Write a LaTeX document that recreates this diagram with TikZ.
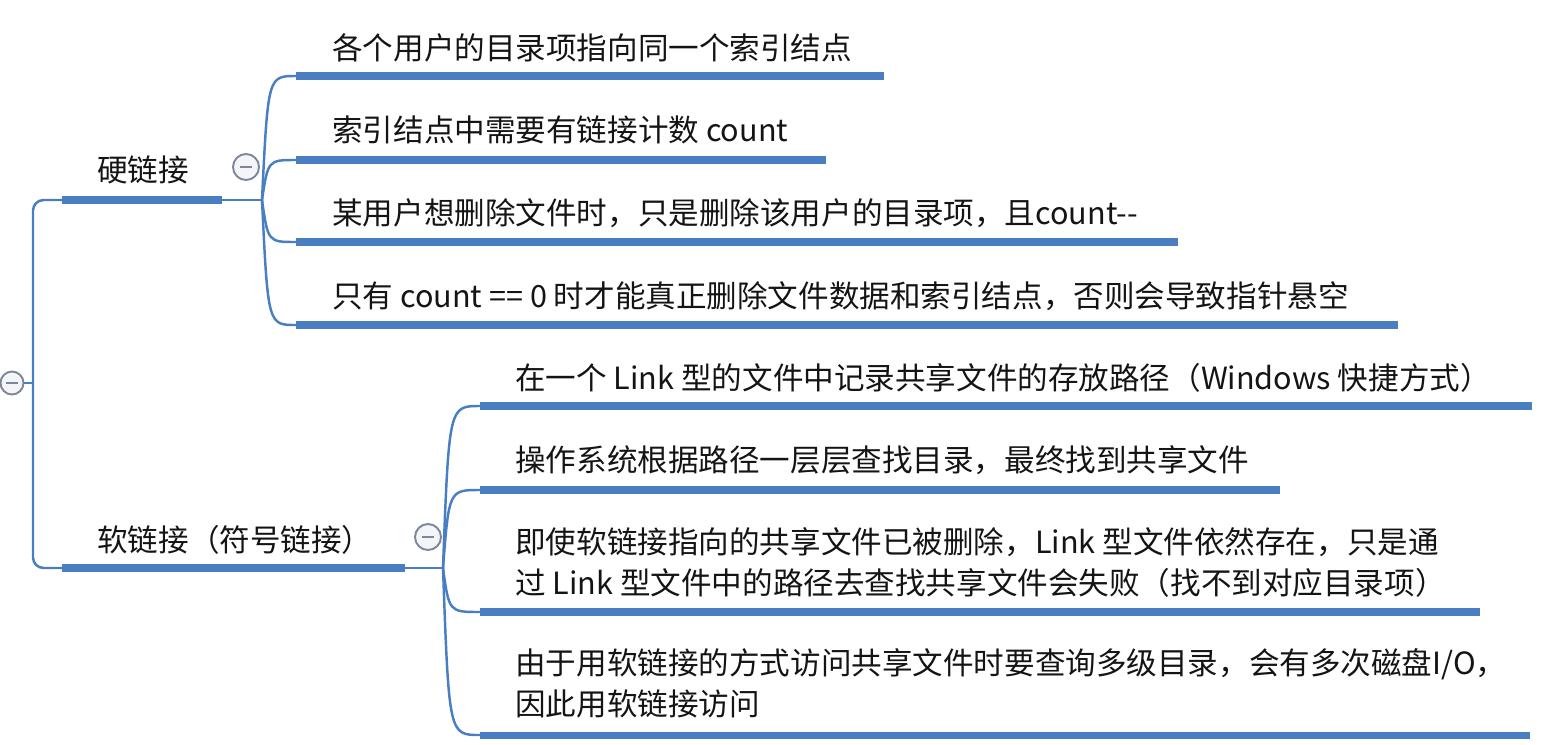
\documentclass[tikz,border=0pt]{standalone}
\usepackage{fontspec}
\setmainfont{Noto Sans CJK SC}
\usetikzlibrary{calc}
\definecolor{mapblue}{HTML}{4A7EC2}
\definecolor{foldgray}{HTML}{7C879A}
\definecolor{foldfill}{HTML}{F3F5F9}
\definecolor{inkblack}{HTML}{141414}

\begin{document}
\begin{tikzpicture}[
  x=0.02cm, y=-0.02cm,
  topic/.style={anchor=base west, inner sep=0pt, align=left, text=inkblack,
                font=\fontsize{17.4}{23.3}\selectfont},
  uline/.style={draw=mapblue, line width=4pt},
  conn/.style={draw=mapblue, line width=1.4pt},
  fold/.style={circle, draw=foldgray, fill=foldfill, line width=1.1pt,
               minimum size=0.52cm, inner sep=0pt,
               path picture={\draw[foldgray, line width=1.6pt]
                 ([xshift=-3.2pt]path picture bounding box.center) --
                 ([xshift=3.2pt]path picture bounding box.center);}}
]
  \useasboundingbox (0,0) rectangle (1550,744);

  % root
  \node[fold, minimum size=0.46cm] (root) at (12,383) {};
  \coordinate (rj) at (33,383);

  % hard link branch
  \coordinate (hs) at (62,200);
  \coordinate (he) at (222,200);
  \coordinate (hb) at (262,200);
  \node[topic] (hard) at (97,181) {硬链接};
  \node[fold] (hfold) at (246,167) {};

  \coordinate (h1s) at (296,76);  \coordinate (h1e) at (884,76);
  \coordinate (h2s) at (296,160); \coordinate (h2e) at (826,160);
  \coordinate (h3s) at (296,242); \coordinate (h3e) at (1178,242);
  \coordinate (h4s) at (296,325); \coordinate (h4e) at (1398,325);
  \node[topic] (h1) at (332,59) {各个用户的目录项指向同一个索引结点};
  \node[topic] (h2) at (332,141) {索引结点中需要有链接计数 count};
  \node[topic] (h3) at (332,224) {某用户想删除文件时，只是删除该用户的目录项，且count-{}-};
  \node[topic] (h4) at (332,307) {只有 count == 0 时才能真正删除文件数据和索引结点，否则会导致指针悬空};

  % soft link branch
  \coordinate (ss) at (62,568);
  \coordinate (se) at (405,568);
  \coordinate (sb) at (443,568);
  \node[topic] (soft) at (97,551) {软链接（符号链接）};
  \node[fold] (sfold) at (428,537) {};

  \coordinate (s1s) at (480,406); \coordinate (s1e) at (1532,406);
  \coordinate (s2s) at (480,490); \coordinate (s2e) at (1280,490);
  \coordinate (s3s) at (480,612); \coordinate (s3e) at (1480,612);
  \coordinate (s4s) at (480,735); \coordinate (s4e) at (1530,735);
  \node[topic] (s1) at (515,389) {在一个 Link 型的文件中记录共享文件的存放路径（Windows 快捷方式）};
  \node[topic] (s2) at (515,471) {操作系统根据路径一层层查找目录，最终找到共享文件};
  \node[topic] (s3) at (515,594) {即使软链接指向的共享文件已被删除，Link 型文件依然存在，只是通\\过 Link 型文件中的路径去查找共享文件会失败（找不到对应目录项）};
  \node[topic] (s4) at (515,715) {由于用软链接的方式访问共享文件时要查询多级目录，会有多次磁盘I/O，\\因此用软链接访问};

  % connectors
  \draw[conn] (root) -- (rj);
  \draw[conn, rounded corners=6pt] (hs) -| (rj) |- (ss);

  \draw[uline] (hs) -- (he);
  \draw[conn] (he) -- (hb);
  \draw[conn] (hb) .. controls ($(hb|-h1s)+(6,0)$) .. (h1s);
  \draw[conn] (hb) .. controls ($(hb|-h2s)+(6,0)$) .. (h2s);
  \draw[conn] (hb) .. controls ($(hb|-h3s)+(6,0)$) .. (h3s);
  \draw[conn] (hb) .. controls ($(hb|-h4s)+(6,0)$) .. (h4s);
  \draw[uline] (h1s) -- (h1e);
  \draw[uline] (h2s) -- (h2e);
  \draw[uline] (h3s) -- (h3e);
  \draw[uline] (h4s) -- (h4e);

  \draw[uline] (ss) -- (se);
  \draw[conn] (se) -- (sb);
  \draw[conn] (sb) .. controls ($(sb|-s1s)+(6,0)$) .. (s1s);
  \draw[conn] (sb) .. controls ($(sb|-s2s)+(6,0)$) .. (s2s);
  \draw[conn] (sb) .. controls ($(sb|-s3s)+(6,0)$) .. (s3s);
  \draw[conn] (sb) .. controls ($(sb|-s4s)+(6,0)$) .. (s4s);
  \draw[uline] (s1s) -- (s1e);
  \draw[uline] (s2s) -- (s2e);
  \draw[uline] (s3s) -- (s3e);
  \draw[uline] (s4s) -- (s4e);
\end{tikzpicture}
\end{document}
